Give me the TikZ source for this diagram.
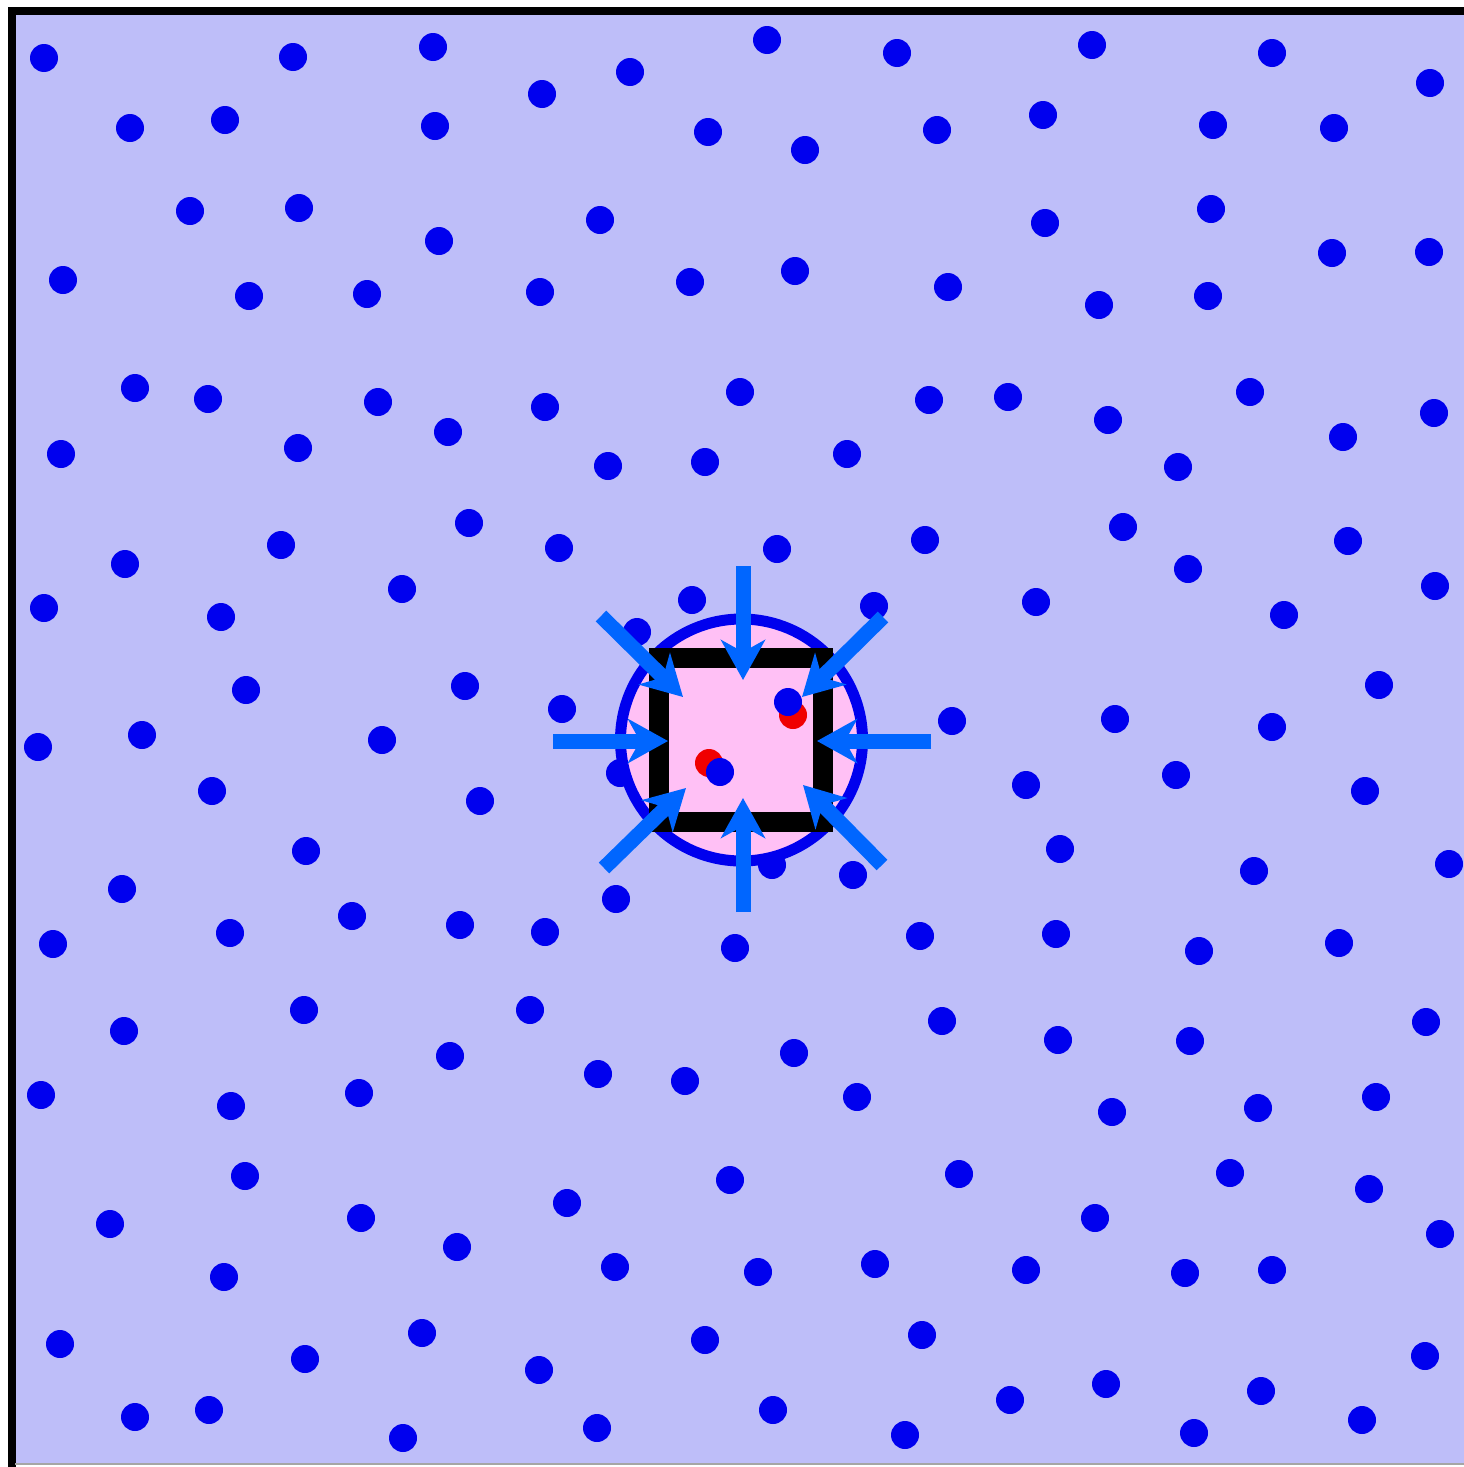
\documentclass[tikz,border=0pt]{standalone}
\usetikzlibrary{arrows.meta}
\definecolor{bgfill}{RGB}{190,190,249}
\definecolor{dotblue}{RGB}{0,0,238}
\definecolor{pinkfill}{RGB}{255,192,245}
\definecolor{arrblue}{RGB}{0,102,255}
\definecolor{dotred}{RGB}{240,0,0}
\tikzset{
  dot/.style={fill=dotblue},
  reddot/.style={fill=dotred},
  inarrow/.style={draw=arrblue,line width=15pt,-{Stealth[length=40pt,width=44pt,inset=12pt]}},
}
\begin{document}
\begin{tikzpicture}[x=1pt,y=-1pt]
\useasboundingbox (0,0) rectangle (1464,1467);
\fill[white] (0,0) rectangle (1464,1467);
\fill[bgfill] (12,10) rectangle (1464,1463);
\draw[black,line width=8pt] (11.5,1467) -- (11.5,10.5) -- (1464,10.5);
\draw[gray!70,line width=1.5pt] (15,1464) -- (1464,1464);
% background dots
\foreach \x/\y in {
44/58,293/57,433/47,767/40,897/53,1092/45,1272/53,1430/83,630/72,542/94,
130/128,225/120,435/126,708/132,805/150,937/130,1043/115,1213/125,1334/128,
190/211,299/208,439/241,600/220,1045/223,1211/209,1332/253,1429/252,
63/280,249/296,367/294,540/292,690/282,795/271,948/287,1099/305,1208/296,
135/388,208/399,378/402,448/432,545/407,740/392,929/400,1008/397,1108/420,1250/392,1343/437,1434/413,
61/454,298/448,608/466,705/462,847/454,1178/467,
469/523,559/548,281/545,125/564,777/549,925/540,1123/527,1348/541,1188/569,
44/608,221/617,402/589,692/600,874/606,1036/602,1284/615,1435/586,637/632,
1379/685,246/690,465/686,562/709,952/721,1115/719,1272/727,
38/747,142/735,382/740,620/773,848/761,
212/791,480/801,1026/785,1176/775,1365/791,
1060/849,306/851,1254/871,1449/864,772/865,853/875,616/899,
122/889,53/944,230/933,352/916,460/925,545/932,735/948,920/936,1056/934,1199/951,1339/943,
124/1031,304/1010,530/1010,450/1056,598/1074,685/1081,794/1053,942/1021,1058/1040,1190/1041,1426/1022,
41/1095,231/1106,359/1093,857/1097,1112/1112,1258/1108,1376/1097,
245/1176,110/1224,361/1218,567/1203,457/1247,730/1180,959/1174,1095/1218,1230/1173,1369/1189,1440/1234,
224/1277,615/1267,758/1272,875/1264,1026/1270,1185/1273,1272/1270,
60/1344,305/1359,422/1333,539/1370,705/1340,922/1335,1425/1356,
135/1417,209/1410,403/1438,597/1428,773/1410,905/1435,1010/1400,1106/1384,1194/1433,1261/1391,1362/1420}
  {\fill[dot] (\x,\y) circle (14);}
% central region
\draw[draw=dotblue,fill=pinkfill,line width=11pt] (741.5,740) circle (121);
\draw[black,line width=20pt] (659,658) rectangle (823,822);
\fill[reddot] (793,715) circle (14);
\fill[reddot] (709,763) circle (14);
\fill[dot] (788,702) circle (14);
\fill[dot] (720,772) circle (14);
% arrows
\draw[inarrow] (743,566) -- (743,680);
\draw[inarrow] (743,912) -- (743,798);
\draw[inarrow] (553,741) -- (668,741);
\draw[inarrow] (931,741) -- (817,741);
\draw[inarrow] (601,616) -- (683,697);
\draw[inarrow] (883,617) -- (802,697);
\draw[inarrow] (604,868) -- (686,788);
\draw[inarrow] (882,865) -- (803,785);
\end{tikzpicture}
\end{document}
